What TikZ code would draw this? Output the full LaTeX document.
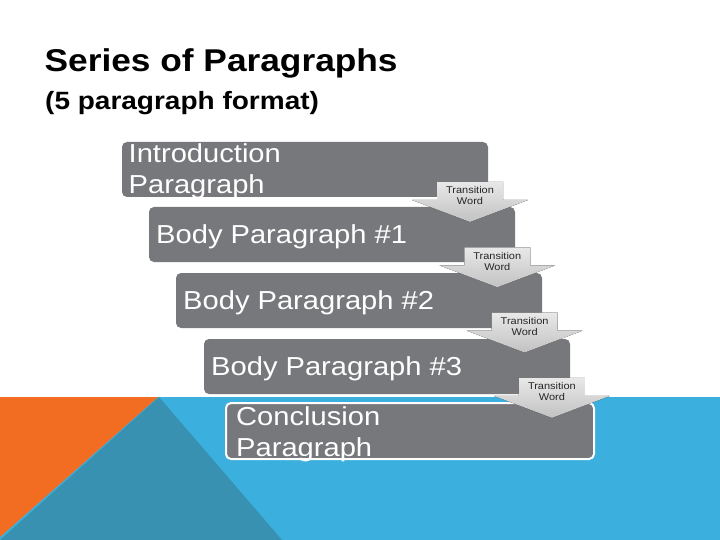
\documentclass[tikz,border=0pt]{standalone}
\usepackage{fontspec}
\setmainfont[FakeStretch=1.12]{Liberation Sans}
\definecolor{boxgray}{HTML}{77787B}
\definecolor{skyblue}{HTML}{3BB0DE}
\definecolor{deepteal}{HTML}{3891B0}
\definecolor{flame}{HTML}{F26C21}
\tikzset{
  pbox/.style={fill=boxgray, rounded corners=5pt, minimum width=366pt, minimum height=55pt, anchor=north west, inner sep=0pt, outer sep=0pt},
  ptext/.style={text=white, anchor=base west, align=left, inner sep=0pt, font=\fontsize{26}{31}\selectfont},
  twarrow/.style={top color=black!9, bottom color=black!24},
  twtext/.style={text=black!85, anchor=base, align=center, inner sep=0pt, font=\fontsize{9.8}{11}\selectfont},
}
\begin{document}
\begin{tikzpicture}[x=1pt,y=-1pt,line join=round]
	% background
	\fill[white] (0,0) rectangle (720,540);
	\fill[skyblue] (0,397) rectangle (720,540);
	\fill[flame] (0,397)--(158,397)--(0,537)--cycle;
	\fill[deepteal] (159,397)--(282,540)--(0,540)--cycle;
	% title
	\node[anchor=base west, inner sep=0pt, font=\bfseries\fontsize{31.5}{36}\selectfont] (title) at (44.5,71.7) {Series of Paragraphs};
	\node[anchor=base west, inner sep=0pt, font=\bfseries\fontsize{25}{30}\selectfont] (subtitle) at (45,110) {(5 paragraph format)};
	% paragraphs
	\node[pbox] (intro) at (122,142) {};
	\node[pbox] (body1) at (149,207) {};
	\node[pbox] (body2) at (176,273) {};
	\node[pbox] (body3) at (204,339) {};
	\node[pbox, draw=white, line width=2pt, minimum width=368pt, minimum height=56pt] (concl) at (226,403) {};
	\node[ptext] (introt) at ([xshift=6.5pt,yshift=-24.5pt]intro.west) {Introduction\\Paragraph};
	\foreach \i in {1,2,3}
	\node[ptext] (body\i t) at ([xshift=7pt,yshift=-8.8pt]body\i.west) {Body Paragraph \#\i};
	\node[ptext] (conclt) at ([xshift=10pt,yshift=-25pt]concl.west) {Conclusion\\Paragraph};
	% transition arrows
	\foreach \i [evaluate=\i as \cx using 470+27.3*(\i-1), evaluate=\i as \tp using 182+65.3*(\i-1)] in {1,...,4}{
		\fill[twarrow] (\cx-33,\tp)--(\cx+33,\tp)--(\cx+33,\tp+18)--(\cx+58,\tp+18)--(\cx,\tp+40)--(\cx-58,\tp+18)--(\cx-33,\tp+18)--cycle;
		\node[twtext] (tw\i) at (\cx,\tp+23) {Transition\\Word};
	}
\end{tikzpicture}
\end{document}
